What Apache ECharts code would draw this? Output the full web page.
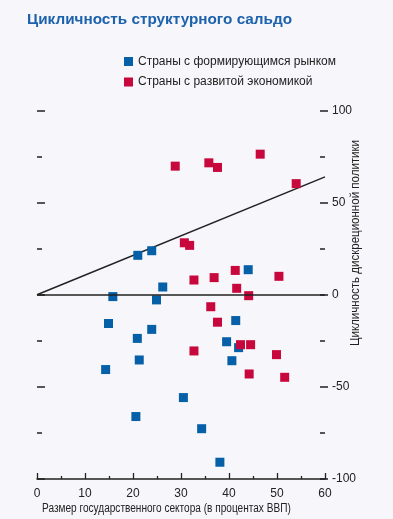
<!DOCTYPE html>
<html><head><meta charset="utf-8">
<script src="https://cdn.jsdelivr.net/npm/echarts@6/dist/echarts.min.js"></script>
<style>html,body{margin:0;padding:0;background:#f7f6fa;}#c{width:393px;height:519px;}</style>
</head><body><div id="c"></div>
<script>
const titleText = 'Цикличность структурного сальдо';
const seriesNames = ['Страны с формирующимся рынком', 'Страны с развитой экономикой'];
const xAxisTitle = 'Размер государственного сектора (в процентах ВВП)';
const yAxisTitle = 'Цикличность дискреционной политики';

const emergingX = [21.0, 23.9, 26.2, 15.8, 24.9, 44.0, 14.9, 23.9, 20.9, 21.3, 14.3, 30.5, 20.6, 34.3, 38.1, 41.4, 39.5, 42.0, 40.6];
const emergingY = [21.4, 23.9, 4.2, -1.0, -2.8, 13.6, -15.6, -18.8, -23.7, -35.4, -40.6, -55.8, -66.1, -72.7, -90.9, -14.0, -25.5, -28.7, -35.8];

const advancedX = [28.8, 35.8, 37.6, 46.5, 54.0, 30.7, 31.8, 32.7, 36.9, 41.3, 50.4, 41.6, 44.1, 36.2, 37.6, 32.7, 42.4, 44.5, 49.9, 44.2, 51.6];
const advancedY = [69.8, 71.6, 69.1, 76.3, 60.3, 28.2, 26.8, 8.0, 9.3, 13.2, 10.0, 3.5, -0.5, -6.5, -14.9, -30.5, -27.1, -27.1, -32.5, -43.0, -44.8];

const trendX = [0, 60];
const trendY = [0, 64];

const xTicks = [0, 10, 20, 30, 40, 50, 60];
const yTicks = [-100, -50, 0, 50, 100];

const FONT = '"Liberation Sans", Arial, sans-serif';
const BLUE = '#0560a8';
const RED = '#c8073c';

const zip = (a, b) => a.map((v, i) => [v, b[i]]);

const chart = echarts.init(document.getElementById('c'), null, {renderer: 'canvas'});
chart.setOption({
  backgroundColor: '#f7f6fa',
  animation: false,
  title: {
    text: titleText, left: 27, top: 12, padding: 0,
    textStyle: {color: '#1c62ad', fontFamily: FONT, fontSize: 15.3, fontWeight: 'bold'}
  },
  legend: {
    orient: 'vertical', left: 124, top: 55.5, padding: 0, itemGap: 8.5,
    icon: 'rect', itemWidth: 9, itemHeight: 9,
    textStyle: {color: '#222', fontFamily: FONT, fontSize: 12},
    data: seriesNames
  },
  grid: {left: 37, right: 68, top: 110.5, bottom: 40},
  xAxis: {
    type: 'value', min: xTicks[0], max: xTicks[xTicks.length - 1], interval: 10,
    axisLine: {show: true, onZero: false, lineStyle: {color: '#222', width: 1.5}},
    axisTick: {show: true, inside: true, length: 6, lineStyle: {color: '#222', width: 1.3}},
    minorTick: {show: true, splitNumber: 2, length: 3, lineStyle: {color: '#222', width: 1.3}},
    axisLabel: {color: '#222', fontFamily: FONT, fontSize: 12, margin: 9},
    splitLine: {show: false}
  },
  yAxis: [{
    type: 'value', position: 'left', min: yTicks[0], max: yTicks[yTicks.length - 1], interval: 50,
    axisLine: {show: false},
    axisTick: {show: true, inside: true, length: 8, lineStyle: {color: '#222', width: 1.5}},
    minorTick: {show: true, splitNumber: 2, length: 5, lineStyle: {color: '#222', width: 1.5}},
    axisLabel: {show: false},
    splitLine: {show: false}
  }, {
    type: 'value', position: 'right', offset: -5, min: yTicks[0], max: yTicks[yTicks.length - 1], interval: 50,
    axisLine: {show: false},
    axisTick: {show: true, inside: false, length: 8, lineStyle: {color: '#222', width: 1.5}},
    minorTick: {show: true, splitNumber: 2, length: 5, lineStyle: {color: '#222', width: 1.5}},
    axisLabel: {color: '#222', fontFamily: FONT, fontSize: 12, margin: 12},
    splitLine: {show: false}
  }],
  graphic: [{
    type: 'text', x: 42, y: 503, scaleX: 0.84,
    style: {text: xAxisTitle, fill: '#222', font: '12px ' + FONT, verticalAlign: 'top'}
  }, {
    type: 'text', x: 356, y: 243, rotation: Math.PI / 2, scaleX: 0.96,
    style: {text: yAxisTitle, fill: '#222', font: '12px ' + FONT, align: 'center', verticalAlign: 'middle'}
  }],
  series: [{
    name: 'trend', type: 'line', data: zip(trendX, trendY), symbol: 'none',
    lineStyle: {color: '#222', width: 1.5}, silent: true, z: 1,
    markLine: {
      symbol: 'none', silent: true, label: {show: false},
      lineStyle: {color: '#222', width: 1.5, type: 'solid'},
      data: [{yAxis: 0}]
    }
  }, {
    name: seriesNames[0], type: 'scatter', symbol: 'rect', symbolSize: 9,
    itemStyle: {color: BLUE, opacity: 1}, data: zip(emergingX, emergingY), z: 3
  }, {
    name: seriesNames[1], type: 'scatter', symbol: 'rect', symbolSize: 9,
    itemStyle: {color: RED, opacity: 1}, data: zip(advancedX, advancedY), z: 3
  }]
});
</script></body></html>
